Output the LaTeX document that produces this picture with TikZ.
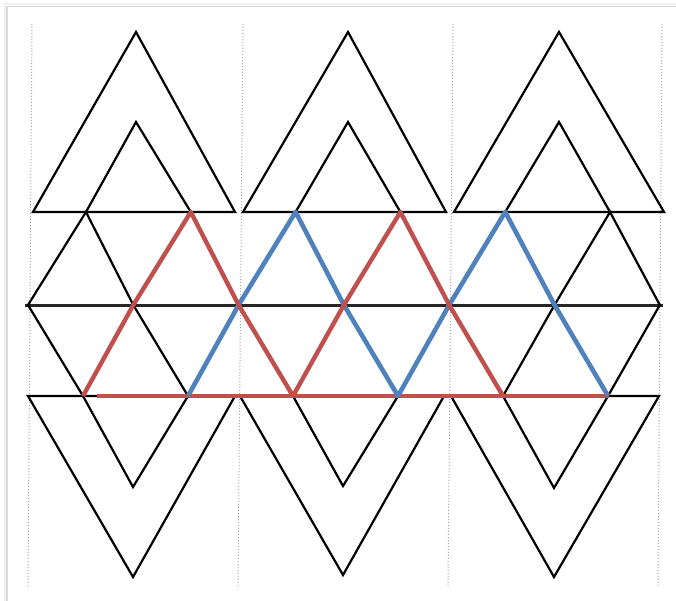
\documentclass[tikz,border=0pt]{standalone}
\definecolor{xred}{RGB}{192,80,77}
\definecolor{xblue}{RGB}{79,129,189}
\begin{document}
\begin{tikzpicture}[x=1pt,y=-1pt,
  edge/.style={black,line width=2.2pt,line join=miter,line cap=round},
  midline/.style={black!85,line width=3pt},
  redpath/.style={xred,line width=4.4pt,line join=round},
  bluepath/.style={xblue,line width=4.6pt,line join=round},
  guide/.style={black!32,line width=1pt,dash pattern=on 1.2pt off 1.8pt},
  frameline/.style={black!14,line width=1.6pt}]
\useasboundingbox (0,0) rectangle (676,601);
% soft frame (top and left edges)
\coordinate (FBL) at (7,601);
\coordinate (FTL) at (7,6.5);
\coordinate (FTR) at (676,6.5);
\draw[frameline] (FBL) -- (FTL) -- (FTR);
\draw[black!6,line width=2pt] (4.5,601) -- (4.5,4) -- (676,4);
% dotted guides
\foreach \i/\xt/\xb in {0/32/28,1/243/238,2/453/448,3/662/658}{
  \coordinate (GT\i) at (\xt,24);
  \coordinate (GB\i) at (\xb,586);
  \draw[guide] (GT\i) -- (GB\i);
}
% lattice points
\foreach \k in {0,...,5}{
  \coordinate (T\k) at ({86+104.8*\k},212);
  \coordinate (B\k) at ({83+105*\k},396);
}
\foreach \k in {0,...,6}{
  \coordinate (M\k) at ({28+105.3*\k},305);
}
% top big triangles and small inner triangles
\foreach \i/\l/\r/\ax in {0/33/235/136,1/243/446/348,2/454/664/559}{
  \coordinate (TL\i) at (\l,212);
  \coordinate (TR\i) at (\r,212);
  \coordinate (A\i) at (\ax,32);
  \coordinate (a\i) at (\ax,122);
  \draw[edge] (TL\i) -- (A\i) -- (TR\i) -- cycle;
}
\draw[edge] (T0) -- (a0) -- (T1);
\draw[edge] (T2) -- (a1) -- (T3);
\draw[edge] (T4) -- (a2) -- (T5);
% bottom big V's and small V's
\foreach \i/\l/\r/\vx/\vy/\sy in {0/28/235/133/577/487,1/240/444/343/575/486,2/451/659/554/577/488}{
  \coordinate (BL\i) at (\l,396);
  \coordinate (BR\i) at (\r,396);
  \coordinate (V\i) at (\vx,\vy);
  \coordinate (v\i) at (\vx,\sy);
  \draw[edge] (BL\i) -- (V\i) -- (BR\i) -- cycle;
}
\draw[edge] (B0) -- (v0) -- (B1);
\draw[edge] (B2) -- (v1) -- (B3);
\draw[edge] (B4) -- (v2) -- (B5);
% middle band lattice
\coordinate (ML) at (25,305);
\coordinate (MR) at (663,305);
\draw[midline] (ML) -- (MR);
\foreach \k [count=\n from 1] in {0,...,5}{
  \draw[edge] (M\k) -- (T\k) -- (M\n);
  \draw[edge] (M\k) -- (B\k) -- (M\n);
}
% coloured paths
\coordinate (RL) at (97,396);
\coordinate (RR) at (609,396);
\draw[redpath] (RL) -- (RR);
\draw[bluepath] (B1) -- (M2) -- (T2) -- (M3) -- (B3) -- (M4) -- (T4) -- (M5) -- (B5);
\draw[redpath] (B0) -- (M1) -- (T1) -- (M2) -- (B2) -- (M3) -- (T3) -- (M4) -- (B4);
\end{tikzpicture}
\end{document}
